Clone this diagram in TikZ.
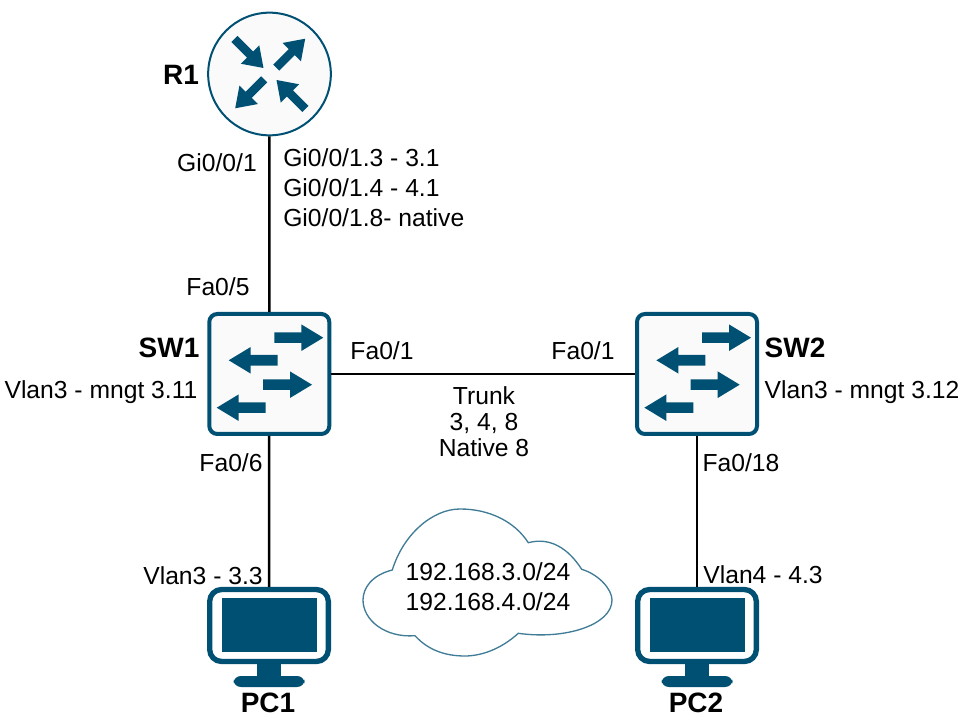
\documentclass[tikz,border=0pt]{standalone}
\usepackage{fontspec}
\setmainfont{Liberation Sans}
\definecolor{iconblue}{HTML}{005073}
\tikzset{
    lbl/.style={inner sep=0pt, font=\fontsize{18.5}{22.5}\selectfont},
    devname/.style={inner sep=0pt, font=\fontsize{21}{25}\selectfont\bfseries},
    link/.style={line width=1.9pt},
    routerbox/.style={circle, draw=iconblue, fill=black!2, line width=1.5pt, minimum size=92pt, inner sep=0pt},
    switchbox/.style={rectangle, rounded corners=6pt, draw=iconblue, fill=black!2, line width=3pt, minimum width=90pt, minimum height=90pt, inner sep=0pt},
    monitor/.style={rectangle, rounded corners=9pt, draw=iconblue, line width=4pt, minimum width=89pt, minimum height=54pt, inner sep=0pt},
}
\begin{document}
\begin{tikzpicture}[x=.75pt, y=-.75pt]
    \useasboundingbox (0,0) rectangle (968,723);
    \node[routerbox] (R1) at (269.5,74){};
    \node[switchbox] (SW1) at (269.3,374){};
    \node[switchbox] (SW2) at (697,374){};
    \node[monitor] (PC1) at (269,625.5){};
    \node[monitor] (PC2) at (697,625.5){};
    \draw[link] (R1) -- (SW1);
    \draw[link] (SW1) -- (SW2);
    \draw[link] (SW1) -- (PC1);
    \draw[link] (SW2) -- (PC2);
    \begin{scope}[shift={(R1)}]
        \foreach \a/\b/\r in {-35/-35/-45, 6.7/-6.3/45, -5.3/5.3/-135, 36/35/135}
            \fill[iconblue, shift={(\a,\b)}, rotate=\r] (0,-4.3) -- (22,-4.3) -- (22,-13) -- (41,0) -- (22,13) -- (22,4.3) -- (0,4.3) -- cycle;
    \end{scope}
    \foreach \sw in {SW1,SW2}{
        \begin{scope}[shift={(\sw)}]
            \foreach \a/\b/\s in {5/-36.3/1, 8.4/-13.7/-1, -6.3/10.7/1, -3.6/33.7/-1}
                \fill[iconblue, shift={(\a,\b)}, xscale=\s] (0,-5.3) -- (27,-5.3) -- (27,-13.3) -- (49,0) -- (27,13.3) -- (27,5.3) -- (0,5.3) -- cycle;
        \end{scope}
    }
    \foreach \pc in {PC1,PC2}{
        \begin{scope}[shift={(\pc)}]
            \fill[iconblue] (-47.5,-27.5) rectangle (47.5,26.5);
            \fill[iconblue] (-12,38) rectangle (12,52);
            \fill[iconblue, rounded corners=5.5pt] (-35.5,50.5) rectangle (35.5,61.5);
        \end{scope}
    }
    \draw[iconblue!75, line width=1pt] (392.3,570)
        .. controls (403,535) and (432,509) .. (460,509)
        .. controls (490,509) and (515,522) .. (528.3,542.7)
        .. controls (550,537) and (568,548) .. (581.7,569.3)
        .. controls (600,575) and (612,590) .. (612,600)
        .. controls (612,625) and (565,640) .. (518.3,633.3)
        .. controls (500,650) and (480,656) .. (465,656)
        .. controls (445,656) and (428,650) .. (415,635.7)
        .. controls (385,638) and (363,620) .. (363,600)
        .. controls (363,588) and (372,575) .. (392.3,570) -- cycle;
    \node[lbl, align=center] (nets) at (488,587){192.168.3.0/24\\192.168.4.0/24};
    \node[devname] (r1name) at (181,75){R1};
    \node[devname] (sw1name) at (169,348){SW1};
    \node[devname] (sw2name) at (795,348){SW2};
    \node[devname] (pc1name) at (268,703){PC1};
    \node[devname] (pc2name) at (696,703){PC2};
    \node[lbl] (gi) at (217,163){Gi0/0/1};
    \node[lbl, align=left, anchor=west] (subs) at (283,188){Gi0/0/1.3 - 3.1\\Gi0/0/1.4 - 4.1\\Gi0/0/1.8- native};
    \node[lbl] (fa5) at (218,287){Fa0/5};
    \node[lbl] (mng1) at (101,392){Vlan3 - mngt 3.11};
    \node[lbl] (fa1a) at (382,351){Fa0/1};
    \node[lbl] (fa1b) at (583,351){Fa0/1};
    \node[lbl, align=center, font=\fontsize{18.5}{19.6}\selectfont] (trunk) at (484,422){Trunk\\3, 4, 8\\Native 8};
    \node[lbl] (fa6) at (231,463){Fa0/6};
    \node[lbl] (fa18) at (741,463){Fa0/18};
    \node[lbl] (mng2) at (862,392){Vlan3 - mngt 3.12};
    \node[lbl] (vl3) at (203,576){Vlan3 - 3.3};
    \node[lbl] (vl4) at (763,575){Vlan4 - 4.3};
\end{tikzpicture}
\end{document}
